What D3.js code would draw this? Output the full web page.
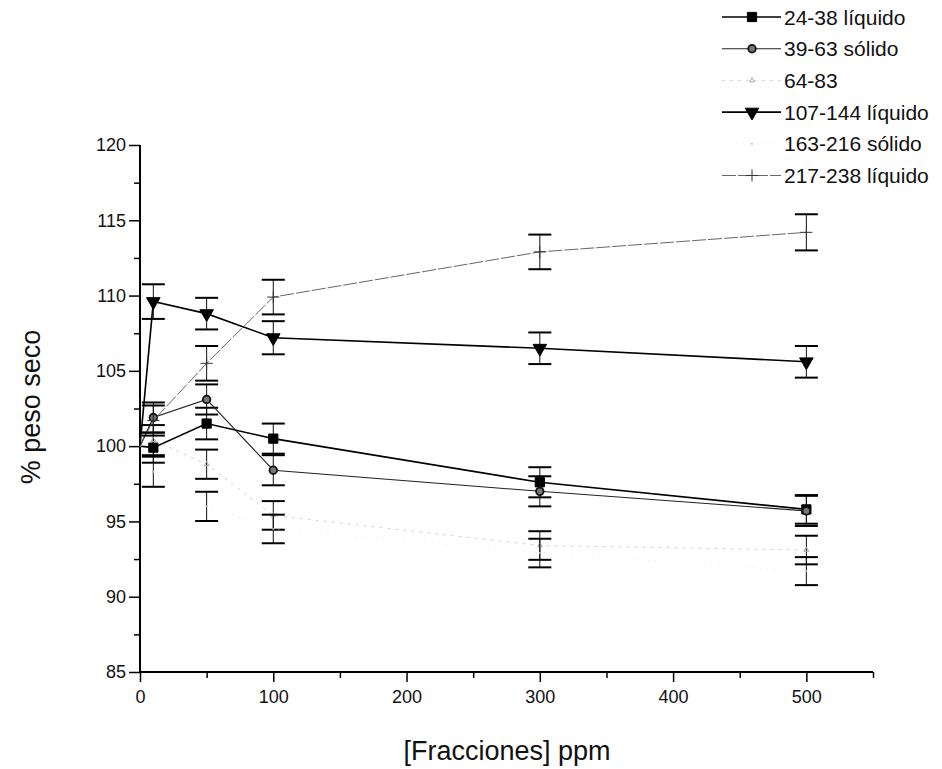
<!DOCTYPE html>
<html>
<head>
<meta charset="utf-8">
<script src="https://cdn.jsdelivr.net/npm/d3@7"></script>
<style>
  body { margin: 0; background: #fff; }
  svg text { font-family: "Liberation Sans", Arial, Helvetica, sans-serif; fill: #111; }
</style>
</head>
<body>
<div id="chart"></div>
<script>
// x values (ppm); 0 is the control, drawn as 100 % without marker
var fractions = [0, 10, 50, 100, 300, 500];

var names = ['24-38 líquido', '39-63 sólido', '64-83', '107-144 líquido', '163-216 sólido', '217-238 líquido'];

var v2438 = [100, 99.9, 101.5, 100.5, 97.6, 95.8];
var e2438 = [0, 1.0, 1.05, 1.0, 1.0, 0.95];

var v3963 = [100, 101.9, 103.1, 98.4, 97.0, 95.7];
var e3963 = [0, 1.0, 1.0, 1.0, 1.0, 1.0];

var v6483 = [100, 100.4, 98.8, 95.4, 93.4, 93.1];
var e6483 = [0, 1.0, 0.97, 0.95, 0.95, 0.95];

var v107144 = [100, 109.6, 108.8, 107.2, 106.5, 105.6];
var e107144 = [0, 1.15, 1.05, 1.1, 1.05, 1.05];

var v163216 = [100, 98.3, 96.0, 94.5, 92.9, 91.7];
var e163216 = [0, 1.0, 0.97, 0.95, 0.95, 0.93];

var v217238 = [100, 101.7, 105.5, 109.9, 112.9, 114.2];
var e217238 = [0, 1.0, 1.15, 1.15, 1.15, 1.2];

var yTicks = [85, 90, 95, 100, 105, 110, 115, 120];
var xTicks = [0, 100, 200, 300, 400, 500];

var plus = d3.symbolPlus || d3.symbolCross;

var series = [
  { name: names[0], values: v2438, errors: e2438, symbol: d3.symbolSquare, size: 85, fill: '#000', stroke: '#000', sw: 1, lineColor: '#000', lineWidth: 1.6, dash: null },
  { name: names[1], values: v3963, errors: e3963, symbol: d3.symbolCircle, size: 45, fill: '#777', stroke: '#111', sw: 1.8, lineColor: '#222', lineWidth: 1.1, dash: null },
  { name: names[2], values: v6483, errors: e6483, symbol: d3.symbolTriangle, size: 10, fill: 'none', stroke: '#aaa', sw: 1, lineColor: '#c8c8c8', lineWidth: 0.8, dash: '3,5' },
  { name: names[3], values: v107144, errors: e107144, symbol: d3.symbolTriangle, size: 80, fill: '#000', stroke: '#000', sw: 1, lineColor: '#000', lineWidth: 1.6, dash: null, down: true },
  { name: names[4], values: v163216, errors: e163216, symbol: d3.symbolCircle, size: 3, fill: '#bbb', stroke: 'none', sw: 0, lineColor: '#dedede', lineWidth: 0.7, dash: '1,6' },
  { name: names[5], values: v217238, errors: e217238, symbol: plus, size: 50, fill: 'none', stroke: '#333', sw: 1, lineColor: '#555', lineWidth: 0.9, dash: '14,2' }
];

var width = 942, height = 769;

var svg = d3.select('#chart').append('svg')
  .attr('width', width)
  .attr('height', height);

var x = d3.scaleLinear().domain([0, 550]).range([140, 873]);
var y = d3.scaleLinear().domain([85, 120]).range([672, 145]);

// axes: major ticks with labels, minor ticks without
var xAxis = svg.append('g')
  .attr('transform', 'translate(0,672)')
  .call(d3.axisBottom(x).tickValues(xTicks).tickSize(10).tickPadding(8).tickFormat(d3.format('d')));
xAxis.select('.domain').attr('stroke-width', 2).attr('d', 'M140,0H873');
xAxis.selectAll('.tick line').attr('stroke-width', 1.5);
xAxis.selectAll('text').style('font-size', '18px');

svg.append('g')
  .attr('transform', 'translate(0,672)')
  .call(d3.axisBottom(x).tickValues([50, 150, 250, 350, 450, 550]).tickSize(6).tickFormat(''))
  .call(function(g) { g.select('.domain').remove(); })
  .selectAll('.tick line').attr('stroke-width', 1.5);

var yAxis = svg.append('g')
  .attr('transform', 'translate(140,0)')
  .call(d3.axisLeft(y).tickValues(yTicks).tickSize(11).tickPadding(3).tickFormat(d3.format('d')));
yAxis.select('.domain').attr('stroke-width', 2).attr('d', 'M0,672V145');
yAxis.selectAll('.tick line').attr('stroke-width', 1.5);
yAxis.selectAll('text').style('font-size', '18px');

svg.append('g')
  .attr('transform', 'translate(140,0)')
  .call(d3.axisLeft(y).tickValues([87.5, 92.5, 97.5, 102.5, 107.5, 112.5, 117.5]).tickSize(6).tickFormat(''))
  .call(function(g) { g.select('.domain').remove(); })
  .selectAll('.tick line').attr('stroke-width', 1.5);

// axis titles
svg.append('text')
  .attr('x', 507)
  .attr('y', 760)
  .attr('text-anchor', 'middle')
  .style('font-size', '27px')
  .text('[Fracciones] ppm');

svg.append('text')
  .attr('transform', 'translate(40,407) rotate(-90)')
  .attr('text-anchor', 'middle')
  .style('font-size', '27px')
  .text('% peso seco');

var line = d3.line()
  .x(function(d) { return x(d.x); })
  .y(function(d) { return y(d.y); });

function points(s) {
  return fractions.map(function(f, i) { return { x: f, y: s.values[i], e: s.errors[i] }; });
}

var groups = svg.selectAll('.series')
  .data(series)
  .enter().append('g')
  .classed('series', true);

groups.append('path')
  .attr('d', function(s) { return line(points(s)); })
  .attr('fill', 'none')
  .attr('stroke', function(s) { return s.lineColor; })
  .attr('stroke-width', function(s) { return s.lineWidth; })
  .attr('stroke-dasharray', function(s) { return s.dash; });

// error bars (skip the control point)
var bars = groups.selectAll('.err')
  .data(function(s) { return points(s).filter(function(p) { return p.x > 0; }); })
  .enter().append('g')
  .classed('err', true);

bars.append('line')
  .attr('x1', function(d) { return x(d.x); })
  .attr('x2', function(d) { return x(d.x); })
  .attr('y1', function(d) { return y(d.y + d.e); })
  .attr('y2', function(d) { return y(d.y - d.e); })
  .attr('stroke', '#111')
  .attr('stroke-width', 1);

bars.selectAll('.cap')
  .data(function(d) { return [d.y + d.e, d.y - d.e].map(function(v) { return { x: d.x, v: v }; }); })
  .enter().append('line')
  .classed('cap', true)
  .attr('x1', function(d) { return x(d.x) - 11.5; })
  .attr('x2', function(d) { return x(d.x) + 11.5; })
  .attr('y1', function(d) { return y(d.v); })
  .attr('y2', function(d) { return y(d.v); })
  .attr('stroke', '#000')
  .attr('stroke-width', 2);

// markers
groups.each(function(s) {
  var sym = d3.symbol().type(s.symbol).size(s.size);
  d3.select(this).selectAll('.mark')
    .data(points(s).filter(function(p) { return p.x > 0; }))
    .enter().append('path')
    .classed('mark', true)
    .attr('d', sym)
    .attr('transform', function(d) {
      return 'translate(' + x(d.x) + ',' + y(d.y) + ')' + (s.down ? ' rotate(180)' : '');
    })
    .attr('fill', s.fill)
    .attr('stroke', s.stroke)
    .attr('stroke-width', s.sw);
});

// legend
var legend = svg.selectAll('.legendEntry')
  .data(series)
  .enter().append('g')
  .classed('legendEntry', true)
  .attr('transform', function(d, i) { return 'translate(722,' + (17 + i * 31.7) + ')'; });

legend.append('line')
  .attr('x1', 0)
  .attr('x2', 59)
  .attr('stroke', function(s) { return s.lineColor; })
  .attr('stroke-width', function(s) { return s.lineWidth; })
  .attr('stroke-dasharray', function(s) { return s.dash; });

legend.append('path')
  .attr('d', function(s) { return d3.symbol().type(s.symbol).size(s.size)(); })
  .attr('transform', function(s) { return 'translate(30,0)' + (s.down ? ' rotate(180)' : ''); })
  .attr('fill', function(s) { return s.fill; })
  .attr('stroke', function(s) { return s.stroke; })
  .attr('stroke-width', function(s) { return s.sw; });

legend.append('text')
  .attr('x', 62)
  .attr('dy', '0.36em')
  .style('font-size', '21px')
  .text(function(s) { return s.name; });
</script>
</body>
</html>
